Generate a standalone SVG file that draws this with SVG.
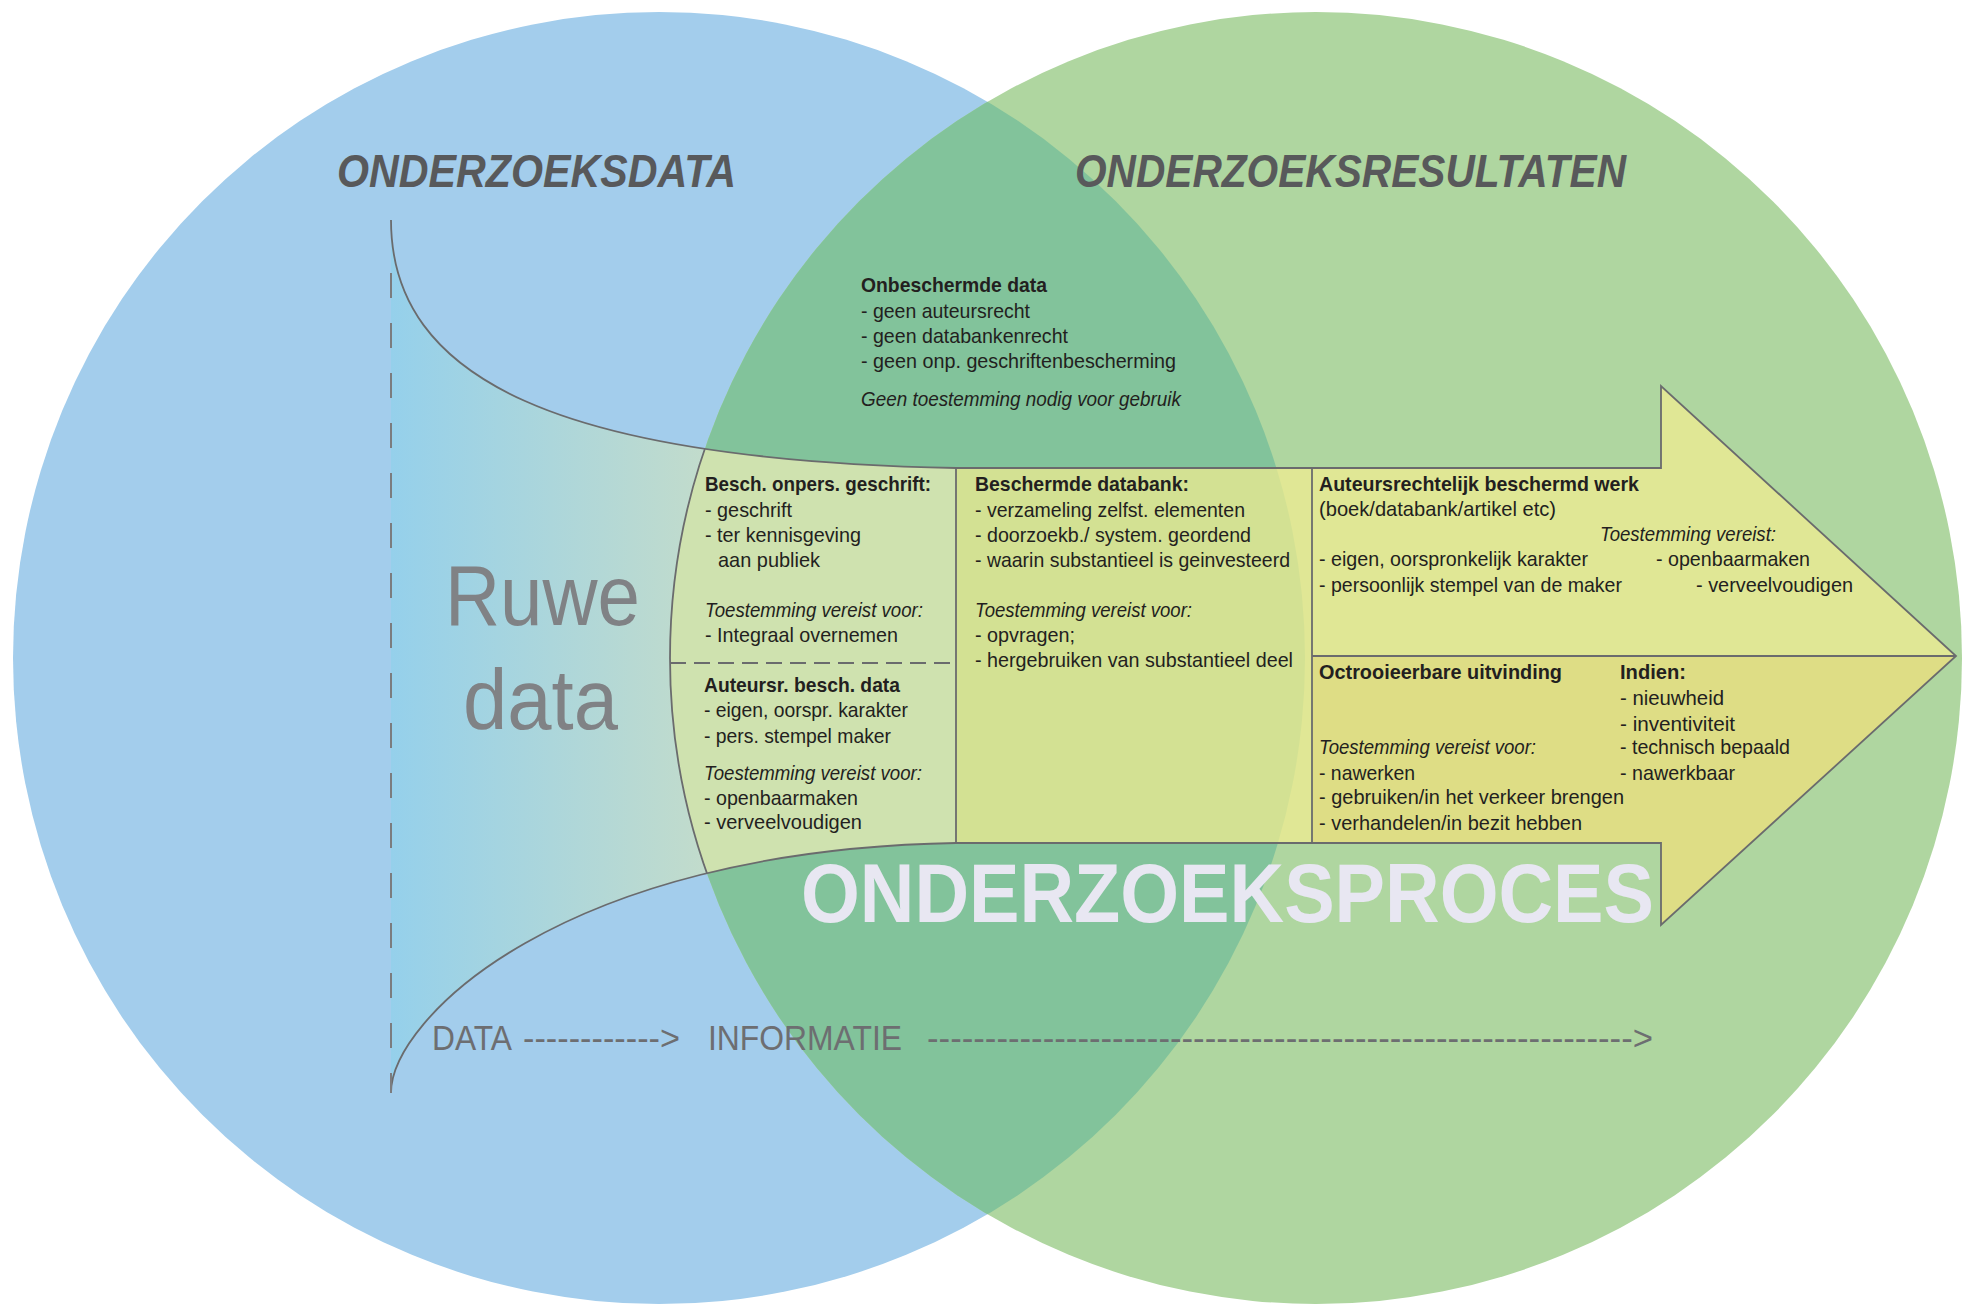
<svg xmlns="http://www.w3.org/2000/svg" width="1968" height="1307" viewBox="0 0 1968 1307">
<style>
.t{font-family:"Liberation Sans",Arial,sans-serif;font-size:21px;fill:#231f20;}
.b{font-weight:bold;}
.i{font-style:italic;}
.line{stroke:#6a6b6d;stroke-width:1.8;fill:none;}
.title{font-family:"Liberation Sans",Arial,sans-serif;font-size:47px;font-weight:bold;font-style:italic;fill:#58595b;}
.flow{font-family:"Liberation Sans",Arial,sans-serif;font-size:35px;fill:#6d6e71;}
</style>
<defs>
<clipPath id="clipBlue"><circle cx="659" cy="658" r="646"/></clipPath>
<clipPath id="clipGreen"><circle cx="1316" cy="658" r="646"/></clipPath>
<clipPath id="clipOutline"><path d="M391,220 C391,380 560,460 956,468 L1661,468 L1661,386 L1956,656 L1661,925 L1661,843 L956,843 C560,850 391,1020 391,1093 Z"/></clipPath>
<linearGradient id="funnelGrad" gradientUnits="userSpaceOnUse" x1="391" y1="0" x2="712" y2="0">
<stop offset="0" stop-color="#95d0eb"/>
<stop offset="1" stop-color="#c3dccb"/>
</linearGradient>
</defs>
<rect x="0" y="0" width="1968" height="1307" fill="#ffffff"/>

<g id="venn">
<circle id="circle-data" cx="659" cy="658" r="646" fill="#a3cdec"/>
<circle id="circle-resultaten" cx="1316" cy="658" r="646" fill="#afd6a0"/>
<circle id="overlap" cx="1316" cy="658" r="646" fill="#82c39b" clip-path="url(#clipBlue)"/>
</g>

<g id="funnel">
<rect x="391" y="200" width="565" height="900" fill="url(#funnelGrad)" clip-path="url(#clipOutline)"/>
<g clip-path="url(#clipOutline)">
<rect id="cell-left-fill" x="600" y="400" width="356" height="500" fill="#cfe2af" clip-path="url(#clipGreen)"/>
</g>
<rect id="cell-middle-fill" x="956" y="468" width="356" height="375" fill="#f5ee90" fill-opacity="0.7"/>
<polygon id="cell-rt-fill" points="1312,468 1661,468 1661,386 1956,656 1312,656" fill="#f5ee90" fill-opacity="0.7"/>
<polygon id="cell-rb-fill" points="1312,656 1956,656 1661,925 1661,843 1312,843" fill="#dedd85"/>
</g>

<g id="connectors">
<path class="line" d="M391,220 C391,380 560,460 956,468 L1661,468 L1661,386 L1956,656 L1661,925 L1661,843 L956,843 C560,850 391,1020 391,1093"/>
<circle class="line" cx="1316" cy="658" r="646" clip-path="url(#clipOutline)"/>
<line class="line" x1="956" y1="468" x2="956" y2="843"/>
<line class="line" x1="1312" y1="468" x2="1312" y2="843"/>
<line class="line" x1="1312" y1="656" x2="1956" y2="656"/>
<line class="line" x1="670" y1="663" x2="956" y2="663" stroke-dasharray="16 8"/>
<line x1="391" y1="273" x2="391" y2="1093" stroke="#7b7c7f" stroke-width="2" stroke-dasharray="25 25"/>
</g>

<g id="titles">
<text class="title" x="337" y="187" textLength="399" lengthAdjust="spacingAndGlyphs">ONDERZOEKSDATA</text>
<text class="title" x="1075" y="187" textLength="551" lengthAdjust="spacingAndGlyphs">ONDERZOEKSRESULTATEN</text>
</g>

<g id="ruwe-data" font-family="Liberation Sans, Arial, sans-serif" font-size="86" fill="#808285">
<text x="445" y="625" textLength="195" lengthAdjust="spacingAndGlyphs">Ruwe</text>
<text x="463" y="729" textLength="155" lengthAdjust="spacingAndGlyphs">data</text>
</g>

<g id="node-onbeschermd">
<text class="t b" x="861" y="292" textLength="186" lengthAdjust="spacingAndGlyphs">Onbeschermde data</text>
<text class="t" x="861" y="318" textLength="169" lengthAdjust="spacingAndGlyphs">- geen auteursrecht</text>
<text class="t" x="861" y="343" textLength="207" lengthAdjust="spacingAndGlyphs">- geen databankenrecht</text>
<text class="t" x="861" y="368" textLength="315" lengthAdjust="spacingAndGlyphs">- geen onp. geschriftenbescherming</text>
<text class="t i" x="861" y="406" textLength="320" lengthAdjust="spacingAndGlyphs">Geen toestemming nodig voor gebruik</text>
</g>

<g id="node-onpers-geschrift">
<text class="t b" x="705" y="491" textLength="226" lengthAdjust="spacingAndGlyphs">Besch. onpers. geschrift:</text>
<text class="t" x="705" y="517" textLength="87" lengthAdjust="spacingAndGlyphs">- geschrift</text>
<text class="t" x="705" y="542" textLength="156" lengthAdjust="spacingAndGlyphs">- ter kennisgeving</text>
<text class="t" x="718" y="567" textLength="102" lengthAdjust="spacingAndGlyphs">aan publiek</text>
<text class="t i" x="705" y="617" textLength="218" lengthAdjust="spacingAndGlyphs">Toestemming vereist voor:</text>
<text class="t" x="705" y="642" textLength="193" lengthAdjust="spacingAndGlyphs">- Integraal overnemen</text>
</g>

<g id="node-auteursr-data">
<text class="t b" x="704" y="692" textLength="196" lengthAdjust="spacingAndGlyphs">Auteursr. besch. data</text>
<text class="t" x="704" y="717" textLength="204" lengthAdjust="spacingAndGlyphs">- eigen, oorspr. karakter</text>
<text class="t" x="704" y="743" textLength="187" lengthAdjust="spacingAndGlyphs">- pers. stempel maker</text>
<text class="t i" x="704" y="780" textLength="218" lengthAdjust="spacingAndGlyphs">Toestemming vereist voor:</text>
<text class="t" x="704" y="805" textLength="154" lengthAdjust="spacingAndGlyphs">- openbaarmaken</text>
<text class="t" x="704" y="829" textLength="158" lengthAdjust="spacingAndGlyphs">- verveelvoudigen</text>
</g>

<g id="node-databank">
<text class="t b" x="975" y="491" textLength="214" lengthAdjust="spacingAndGlyphs">Beschermde databank:</text>
<text class="t" x="975" y="517" textLength="270" lengthAdjust="spacingAndGlyphs">- verzameling zelfst. elementen</text>
<text class="t" x="975" y="542" textLength="276" lengthAdjust="spacingAndGlyphs">- doorzoekb./ system. geordend</text>
<text class="t" x="975" y="567" textLength="315" lengthAdjust="spacingAndGlyphs">- waarin substantieel is geinvesteerd</text>
<text class="t i" x="975" y="617" textLength="217" lengthAdjust="spacingAndGlyphs">Toestemming vereist voor:</text>
<text class="t" x="975" y="642" textLength="100" lengthAdjust="spacingAndGlyphs">- opvragen;</text>
<text class="t" x="975" y="667" textLength="318" lengthAdjust="spacingAndGlyphs">- hergebruiken van substantieel deel</text>
</g>

<g id="node-auteursrechtelijk-werk">
<text class="t b" x="1319" y="491" textLength="320" lengthAdjust="spacingAndGlyphs">Auteursrechtelijk beschermd werk</text>
<text class="t" x="1319" y="516" textLength="237" lengthAdjust="spacingAndGlyphs">(boek/databank/artikel etc)</text>
<text class="t i" x="1600" y="541" textLength="176" lengthAdjust="spacingAndGlyphs">Toestemming vereist:</text>
<text class="t" x="1319" y="566" textLength="269" lengthAdjust="spacingAndGlyphs">- eigen, oorspronkelijk karakter</text>
<text class="t" x="1656" y="566" textLength="154" lengthAdjust="spacingAndGlyphs">- openbaarmaken</text>
<text class="t" x="1319" y="592" textLength="303" lengthAdjust="spacingAndGlyphs">- persoonlijk stempel van de maker</text>
<text class="t" x="1696" y="592" textLength="157" lengthAdjust="spacingAndGlyphs">- verveelvoudigen</text>
</g>

<g id="node-octrooi">
<text class="t b" x="1319" y="679" textLength="243" lengthAdjust="spacingAndGlyphs">Octrooieerbare uitvinding</text>
<text class="t b" x="1620" y="679" textLength="66" lengthAdjust="spacingAndGlyphs">Indien:</text>
<text class="t" x="1620" y="705" textLength="104" lengthAdjust="spacingAndGlyphs">- nieuwheid</text>
<text class="t" x="1620" y="731" textLength="115" lengthAdjust="spacingAndGlyphs">- inventiviteit</text>
<text class="t i" x="1319" y="754" textLength="217" lengthAdjust="spacingAndGlyphs">Toestemming vereist voor:</text>
<text class="t" x="1620" y="754" textLength="170" lengthAdjust="spacingAndGlyphs">- technisch bepaald</text>
<text class="t" x="1319" y="780" textLength="96" lengthAdjust="spacingAndGlyphs">- nawerken</text>
<text class="t" x="1620" y="780" textLength="115" lengthAdjust="spacingAndGlyphs">- nawerkbaar</text>
<text class="t" x="1319" y="804" textLength="305" lengthAdjust="spacingAndGlyphs">- gebruiken/in het verkeer brengen</text>
<text class="t" x="1319" y="830" textLength="263" lengthAdjust="spacingAndGlyphs">- verhandelen/in bezit hebben</text>
</g>

<g id="onderzoeksproces">
<text x="801" y="922" font-family="Liberation Sans, Arial, sans-serif" font-size="84" font-weight="bold" fill="#e8e7f2" textLength="853" lengthAdjust="spacingAndGlyphs">ONDERZOEKSPROCES</text>
</g>

<g id="flow-labels">
<text class="flow" x="432" y="1050" textLength="80" lengthAdjust="spacingAndGlyphs">DATA</text>
<text class="flow" x="523" y="1050" textLength="157" lengthAdjust="spacingAndGlyphs">------------&gt;</text>
<text class="flow" x="708" y="1050" textLength="194" lengthAdjust="spacingAndGlyphs">INFORMATIE</text>
<text class="flow" x="927" y="1050" textLength="726" lengthAdjust="spacingAndGlyphs">-------------------------------------------------------------&gt;</text>
</g>
</svg>
